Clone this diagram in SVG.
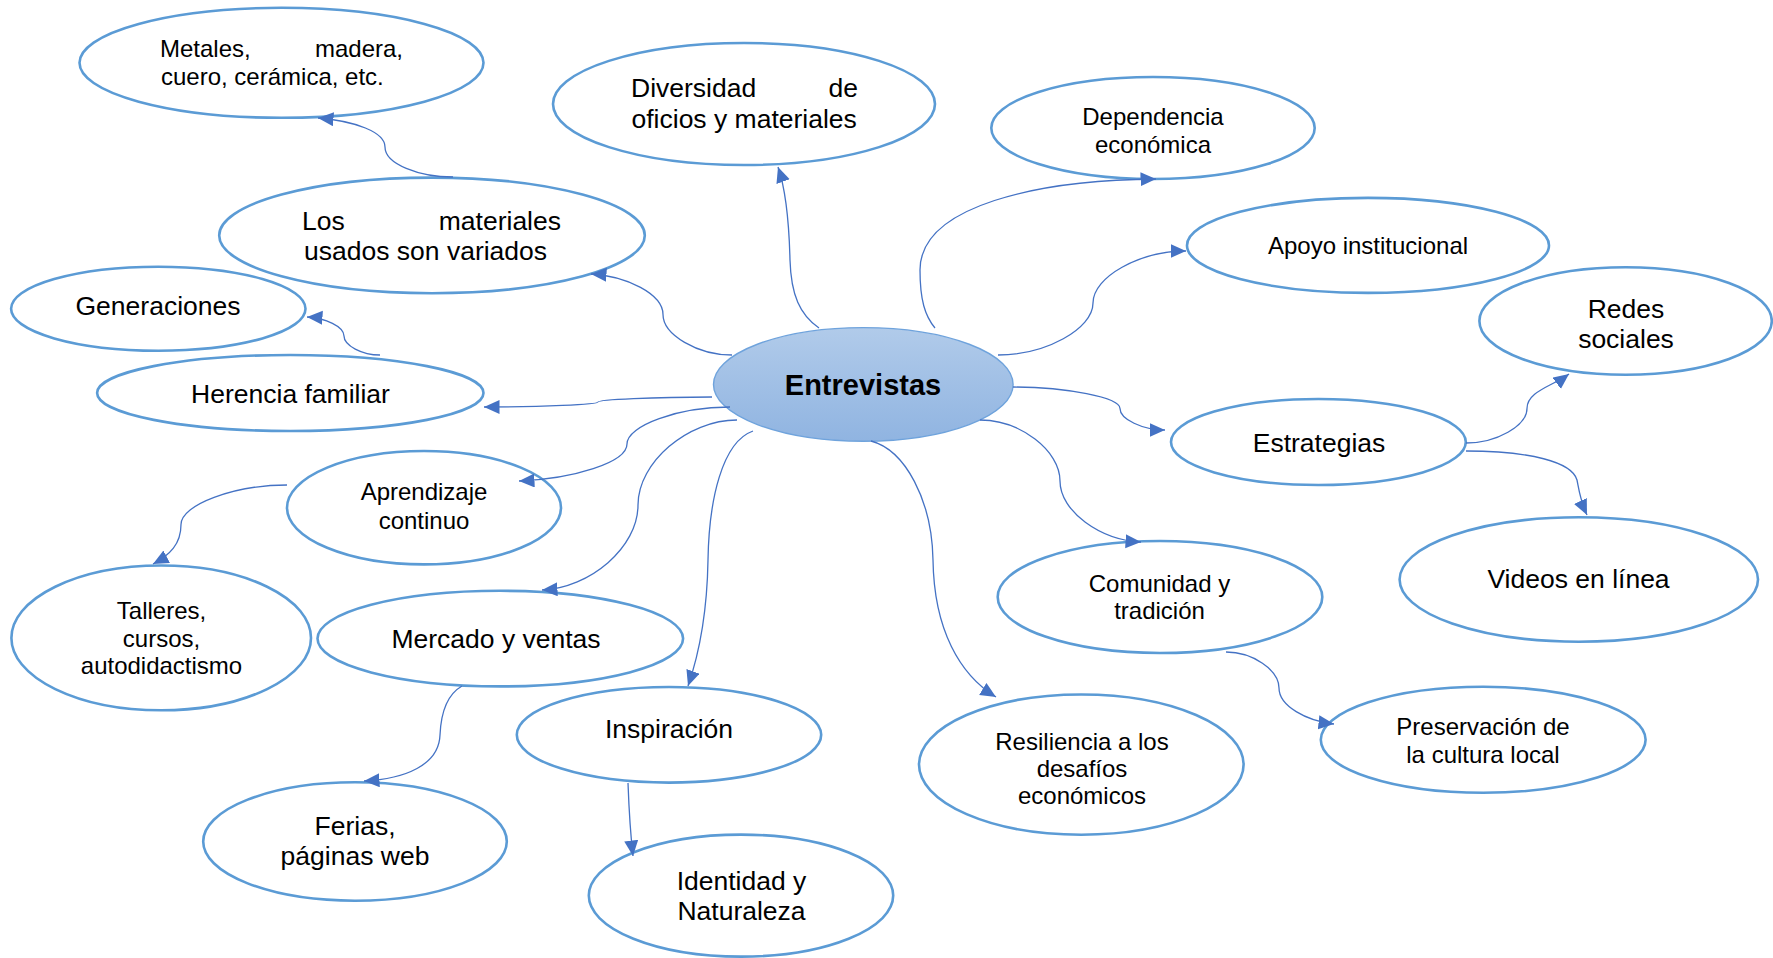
<svg xmlns="http://www.w3.org/2000/svg" width="1773" height="958" viewBox="0 0 1773 958">
<style>
  .n { fill: #ffffff; stroke: #5b9bd5; stroke-width: 2.6; }
  .t { font-family: "Liberation Sans", Arial, sans-serif; fill: #000000; }
  .s { font-size: 24px; }
  .l { font-size: 26.5px; }
  .c { text-anchor: middle; }
  .e { text-anchor: end; }
  .k { fill: none; stroke: #4472c4; stroke-width: 1.3; marker-end: url(#arr); }
</style>
<defs>
  <marker id="arr" markerUnits="userSpaceOnUse" markerWidth="17" markerHeight="15" refX="15.5" refY="7" orient="auto">
    <path d="M0,0 L15.5,7 L0,14 z" fill="#4472c4"/>
  </marker>
  <linearGradient id="cg" x1="0" y1="0" x2="0" y2="1">
    <stop offset="0" stop-color="#b1cbea"/>
    <stop offset="1" stop-color="#90b4e1"/>
  </linearGradient>
</defs>
<rect width="1773" height="958" fill="#ffffff"/>

<g id="node-metales">
  <ellipse class="n" cx="281.5" cy="62.8" rx="202" ry="55"/>
  <text class="t s" x="160" y="57">Metales,</text>
  <text class="t s e" x="403" y="57">madera,</text>
  <text class="t s" x="161" y="85">cuero, cerámica, etc.</text>
</g>
<g id="node-diversidad">
  <ellipse class="n" cx="744" cy="104" rx="191" ry="61"/>
  <text class="t l" x="631" y="97">Diversidad</text>
  <text class="t l e" x="858" y="97">de</text>
  <text class="t l" x="631.5" y="128">oficios y materiales</text>
</g>
<g id="node-dependencia">
  <ellipse class="n" cx="1153" cy="128" rx="161.7" ry="51"/>
  <text class="t s c" x="1153" y="125">Dependencia</text>
  <text class="t s c" x="1153" y="153">económica</text>
</g>
<g id="node-apoyo">
  <ellipse class="n" cx="1368" cy="245.4" rx="181" ry="47.5"/>
  <text class="t s c" x="1368" y="254">Apoyo institucional</text>
</g>
<g id="node-redes">
  <ellipse class="n" cx="1625.6" cy="321" rx="146.2" ry="53.7"/>
  <text class="t l c" x="1626" y="318">Redes</text>
  <text class="t l c" x="1626" y="348">sociales</text>
</g>
<g id="node-materiales">
  <ellipse class="n" cx="432" cy="235.4" rx="212.8" ry="57.8"/>
  <text class="t l" x="302" y="230">Los</text>
  <text class="t l e" x="561" y="230">materiales</text>
  <text class="t l" x="304" y="260">usados son variados</text>
</g>
<g id="node-generaciones">
  <ellipse class="n" cx="158.3" cy="308.7" rx="147.2" ry="42"/>
  <text class="t l c" x="158" y="315">Generaciones</text>
</g>
<g id="node-herencia">
  <ellipse class="n" cx="290.3" cy="393" rx="193.2" ry="38"/>
  <text class="t l c" x="290.5" y="403">Herencia familiar</text>
</g>
<g id="node-entrevistas">
  <ellipse cx="863.3" cy="384.4" rx="149.8" ry="56.8" fill="url(#cg)" stroke="#6fa3dc" stroke-width="1.4"/>
  <text class="t c" x="863" y="395" font-size="29" font-weight="bold">Entrevistas</text>
</g>
<g id="node-estrategias">
  <ellipse class="n" cx="1318.4" cy="442" rx="147.4" ry="43"/>
  <text class="t l c" x="1319" y="452">Estrategias</text>
</g>
<g id="node-aprendizaje">
  <ellipse class="n" cx="424" cy="507.7" rx="137" ry="56.7"/>
  <text class="t s c" x="424" y="500">Aprendizaje</text>
  <text class="t s c" x="424" y="529">continuo</text>
</g>
<g id="node-talleres">
  <ellipse class="n" cx="161.2" cy="637.9" rx="149.8" ry="72.4"/>
  <text class="t s c" x="161.5" y="619">Talleres,</text>
  <text class="t s c" x="161.5" y="647">cursos,</text>
  <text class="t s c" x="161.5" y="674">autodidactismo</text>
</g>
<g id="node-mercado">
  <ellipse class="n" cx="500.3" cy="638.6" rx="182.8" ry="47.8"/>
  <text class="t l c" x="496" y="648">Mercado y ventas</text>
</g>
<g id="node-inspiracion">
  <ellipse class="n" cx="669" cy="734.8" rx="152.2" ry="47.8"/>
  <text class="t l c" x="669" y="738">Inspiración</text>
</g>
<g id="node-ferias">
  <ellipse class="n" cx="355" cy="841.5" rx="151.8" ry="59.2"/>
  <text class="t l c" x="355" y="835">Ferias,</text>
  <text class="t l c" x="355" y="865">páginas web</text>
</g>
<g id="node-identidad">
  <ellipse class="n" cx="741" cy="895.6" rx="152.2" ry="61"/>
  <text class="t l c" x="741.5" y="890">Identidad y</text>
  <text class="t l c" x="741.5" y="920">Naturaleza</text>
</g>
<g id="node-resiliencia">
  <ellipse class="n" cx="1081.3" cy="764.6" rx="162.3" ry="70.1"/>
  <text class="t s c" x="1082" y="750">Resiliencia a los</text>
  <text class="t s c" x="1082" y="777">desafíos</text>
  <text class="t s c" x="1082" y="804">económicos</text>
</g>
<g id="node-comunidad">
  <ellipse class="n" cx="1160" cy="597" rx="162.3" ry="56"/>
  <text class="t s c" x="1159.5" y="592">Comunidad y</text>
  <text class="t s c" x="1159.5" y="619">tradición</text>
</g>
<g id="node-videos">
  <ellipse class="n" cx="1578.8" cy="579.5" rx="179.2" ry="62.2"/>
  <text class="t l c" x="1578.5" y="588">Videos en línea</text>
</g>
<g id="node-preservacion">
  <ellipse class="n" cx="1483.2" cy="739.8" rx="162.4" ry="53"/>
  <text class="t s c" x="1483" y="735">Preservación de</text>
  <text class="t s c" x="1483" y="763">la cultura local</text>
</g>

<g id="connectors">
  <path class="k" d="M 453 177 C 419 177 385 164 385 147 C 385 132 355 121 318 118"/>
  <path class="k" d="M 819 328 C 800 315 791 295 790 260 C 789 220 786 190 778 167"/>
  <path class="k" d="M 935 328 C 925 316 920 300 920 270 C 920 205 1040 180 1156 179"/>
  <path class="k" d="M 998 355 C 1045.5 355 1093 329 1093 303 C 1093 277 1139.5 251 1186 251"/>
  <path class="k" d="M 1013 387 C 1066.5 387 1120 397.75 1120 408.5 C 1120 419.25 1142.5 430 1165 430"/>
  <path class="k" d="M 732 355 C 697.5 355 663 334.75 663 314.5 C 663 294.25 627 276 591 274"/>
  <path class="k" d="M 712 397 C 655 397 598 399.5 598 402 C 598 404.5 541 407 484 407"/>
  <path class="k" d="M 380 355 C 362 355 344 345.5 344 336 C 344 326.5 325.5 318 307 317"/>
  <path class="k" d="M 730 407 C 678.5 407 627 425.5 627 444 C 627 462.5 573 479 519 481"/>
  <path class="k" d="M 737 420 C 687.5 420 638 462.5 638 505 C 638 547.5 590 588 542 590"/>
  <path class="k" d="M 753 431 C 722 442 709 500 708 560 C 707 620 697 660 688 686"/>
  <path class="k" d="M 871 441 C 905 450 932 500 933 560 C 934 630 960 675 996 697"/>
  <path class="k" d="M 980 420 C 1020 420 1060 450.5 1060 481 C 1060 511.5 1100.5 540 1141 542"/>
  <path class="k" d="M 1226 652 C 1252.5 652 1279 670 1279 688 C 1279 706 1306.5 721 1334 724"/>
  <path class="k" d="M 1466 443 C 1496.5 443 1527 425.75 1527 408.5 C 1527 391.25 1553 386 1569 374"/>
  <path class="k" d="M 1466 451 C 1530 451 1572 462 1577 480 C 1579 490 1580 500 1587 515"/>
  <path class="k" d="M 287 485 C 234 485 181 504.75 181 524.5 C 181 544 170 555 153 564"/>
  <path class="k" d="M 462 686 C 448 694 441 712 440 735 C 439 765 405 779 364 781"/>
  <path class="k" d="M 628 783 C 629 810 630 830 633 856"/>
</g>
</svg>
